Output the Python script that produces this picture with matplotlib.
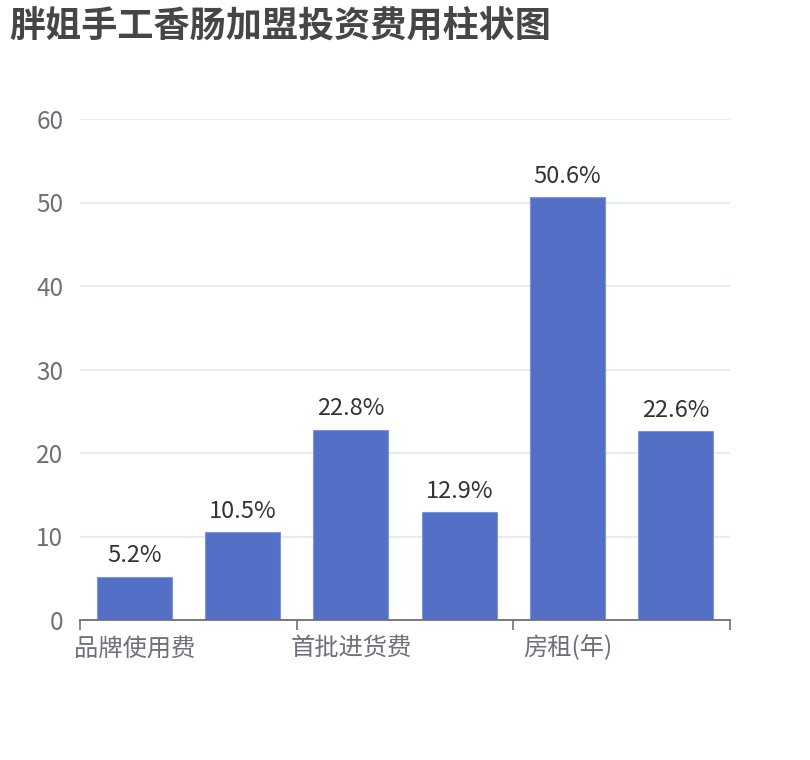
import matplotlib
matplotlib.use("Agg")
import matplotlib.pyplot as plt
import numpy as np

plt.rcParams['font.family'] = ['Noto Sans CJK SC', 'DejaVu Sans']

title = "胖姐手工香肠加盟投资费用柱状图"
categories = ["品牌使用费", "加盟费", "首批进货费", "设备费", "房租(年)", "装修费"]
values = [5.2, 10.5, 22.8, 12.9, 50.6, 22.6]
label_texts = ["5.2%", "10.5%", "22.8%", "12.9%", "50.6%", "22.6%"]
y_ticks = [0, 10, 20, 30, 40, 50, 60]

W, H = 810, 760
fig = plt.figure(figsize=(W / 100, H / 100), dpi=100)
ax = fig.add_axes([80 / W, 1 - 620 / H, 650 / W, (620 - 119) / H])

x = np.arange(len(categories))
bars = ax.bar(x, values, width=0.69, color="#5470c6", edgecolor="#7f95d6",
              linewidth=0.8, zorder=3)
for xi, v, t in zip(x, values, label_texts):
    ax.annotate(t, (xi, v), xytext=(0, 7), textcoords="offset points",
                ha="center", va="bottom", fontsize=17, color="#333333")

ax.set_xlim(-0.5, len(categories) - 0.5)
ax.set_ylim(0, 60)
ax.set_yticks(y_ticks)
ax.set_yticklabels([str(t) for t in y_ticks], fontsize=17.5, color="#6E7079")
ax.tick_params(axis="y", length=0, pad=12)
ax.grid(axis="y", color="#E0E6F1", linewidth=1.2, zorder=0)

# major ticks at category boundaries, labels on every other category
ax.set_xticks(np.arange(-0.5, len(categories), 2))
ax.set_xticklabels([])
ax.tick_params(axis="x", which="major", length=7, width=1.2, color="#6E7079")
ax.set_xticks(x[::2], minor=True)
ax.set_xticklabels(categories[::2], minor=True, fontsize=17.5, color="#6E7079")
ax.tick_params(axis="x", which="minor", length=0, pad=11)

for s in ["top", "right", "left"]:
    ax.spines[s].set_visible(False)
ax.spines["bottom"].set_color("#6E7079")
ax.spines["bottom"].set_linewidth(1.3)
ax.spines["bottom"].set_zorder(4)

fig.text(9 / W, 1 - 27 / H, title, fontsize=26, fontweight="bold",
         color="#464646", ha="left", va="center")

fig.savefig("out.png", dpi=100, facecolor="white")
